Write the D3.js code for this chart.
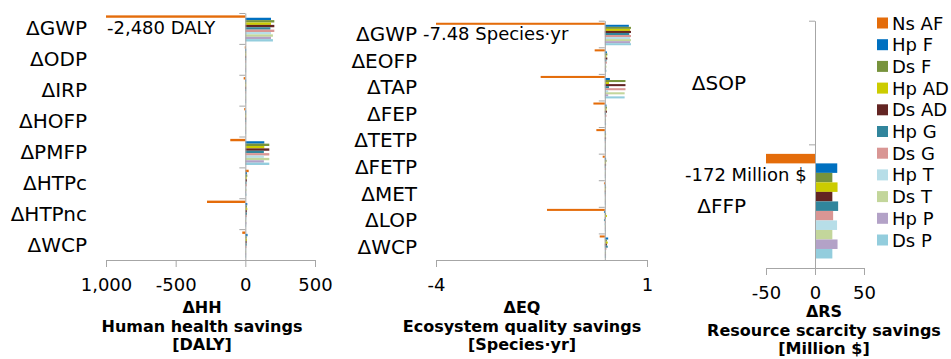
<!DOCTYPE html>
<html>
<head>
<meta charset="utf-8">
<script src="https://cdn.jsdelivr.net/npm/d3@7"></script>
<style>
  body { margin: 0; background: #fff; }
  text { font-family: "DejaVu Sans", Verdana, sans-serif; }
</style>
</head>
<body>
<svg id="chart" width="951" height="359"></svg>
<script>
// series (top to bottom inside each category)
const seriesNames = ["Ns AF", "Hp F", "Ds F", "Hp AD", "Ds AD", "Hp G", "Ds G", "Hp T", "Ds T", "Hp P", "Ds P"];
const seriesColors = ["#e46c0a", "#0070c0", "#77933c", "#cccc00", "#632523", "#31859c", "#d99694", "#b7dee8", "#c3d69b", "#b3a2c7", "#93cddd"];

// Human health savings [DALY]
const hhCategories = ["ΔGWP", "ΔODP", "ΔIRP", "ΔHOFP", "ΔPMFP", "ΔHTPc", "ΔHTPnc", "ΔWCP"];
const hhValues = [
  [-2480, 184, 208, 184, 208, 180, 208, 184, 198, 184, 198],
  [-4, 5, 3, 4, 3, 4, 2, 3, 2, 3, 2],
  [-12, 3, 2, 3, 2, 3, 2, 2, 2, 2, 2],
  [-8, 3, 2, 3, 2, 3, 2, 2, 2, 2, 2],
  [-108, 136, 172, 136, 172, 133, 172, 133, 172, 133, 172],
  [24, 12, 14, 10, 12, 8, 10, 6, 8, 6, 8],
  [-275, 14, 12, 14, 12, 12, 10, 8, 6, 8, 6],
  [-22, 16, 10, 12, 10, 10, 8, 6, 5, 6, 5]
];
const hhTicks = [-1000, -500, 0, 500];
const hhTickLabels = ["1,000", "-500", "0", "500"];

// Ecosystem quality savings [Species·yr]
const eqCategories = ["ΔGWP", "ΔEOFP", "ΔTAP", "ΔFEP", "ΔTETP", "ΔFETP", "ΔMET", "ΔLOP", "ΔWCP"];
const eqValues = [
  [-7.48, 0.57, 0.62, 0.6, 0.62, 0.58, 0.62, 0.6, 0.62, 0.6, 0.62],
  [-0.24, 0.05, 0.06, 0.04, 0.06, 0.04, 0.05, 0.03, 0.04, 0.03, 0.04],
  [-1.52, 0.12, 0.49, 0.1, 0.49, 0.1, 0.49, 0.08, 0.47, 0.08, 0.47],
  [-0.27, 0.04, 0.05, 0.04, 0.05, 0.03, 0.04, 0.02, 0.03, 0.02, 0.03],
  [-0.2, 0.02, 0.03, 0.02, 0.03, 0.02, 0.02, 0.01, 0.02, 0.01, 0.02],
  [-0.05, 0.03, 0.04, 0.03, 0.03, 0.02, 0.03, 0.02, 0.02, 0.02, 0.02],
  [-0.02, 0.02, 0.03, 0.02, 0.02, 0.02, 0.02, 0.01, 0.01, 0.01, 0.01],
  [-1.37, -0.02, 0.03, 0.05, 0.02, -0.02, 0.01, -0.01, 0.01, 0.01, 0.01],
  [-0.12, 0.08, 0.05, 0.07, 0.05, 0.07, 0.04, 0.03, 0.03, 0.03, 0.03]
];
const eqTicks = [-4, 1];
const eqTickLabels = ["-4", "1"];

// Resource scarcity savings [Million $]
const rsCategories = ["ΔSOP", "ΔFFP"];
const rsValues = [
  [0.6, 0.5, 0.4, 0.5, 0.4, 0.5, 0.4, 0.3, 0.2, 0.2, 0.2],
  [-172, 22.7, 17.7, 23, 17.7, 23.6, 18.5, 22.5, 17.7, 23, 17.7]
];
const rsTicks = [-50, 0, 50];
const rsTickLabels = ["-50", "0", "50"];

const svg = d3.select("#chart");
const axisColor = "#a6a6a6";

function drawPanel(cfg) {
  const g = svg.append("g");
  const x = d3.scaleLinear().domain(cfg.domain).range(cfg.xRange).clamp(true);
  const y = d3.scaleBand().domain(cfg.categories).range(cfg.yRange);
  const ySub = d3.scaleBand().domain(seriesNames)
    .range([0, y.bandwidth()]).paddingInner(0).paddingOuter(1);

  // bars
  cfg.categories.forEach((cat, ci) => {
    g.selectAll(null)
      .data(cfg.values[ci])
      .join("rect")
      .attr("x", v => x(Math.min(0, v)))
      .attr("width", v => Math.max(0.8, Math.abs(x(v) - x(0))))
      .attr("y", (v, i) => y(cat) + ySub(seriesNames[i]))
      .attr("height", ySub.bandwidth())
      .attr("fill", (v, i) => seriesColors[i]);
  });

  // vertical axis at zero, ticks at category boundaries
  const yIdx = d3.scaleLinear().domain([0, cfg.categories.length]).range(cfg.yRange);
  const yAxis = g.append("g")
    .attr("transform", `translate(${x(0)},0)`)
    .call(d3.axisLeft(yIdx).tickValues(d3.range(cfg.categories.length + 1))
      .tickFormat("").tickSize(6).tickSizeOuter(0));
  yAxis.selectAll("path, line").attr("stroke", axisColor);

  // category labels
  g.selectAll(null)
    .data(cfg.categories)
    .join("text")
    .attr("x", cfg.labelX)
    .attr("y", d => y(d) + y.bandwidth() / 2 + 7)
    .attr("text-anchor", "end")
    .attr("font-size", 20)
    .text(d => d);

  // horizontal axis
  const xAxis = g.append("g")
    .attr("transform", `translate(0,${cfg.yRange[1]})`)
    .call(d3.axisBottom(x).tickValues(cfg.ticks)
      .tickFormat((d, i) => cfg.tickLabels[i])
      .tickSize(7).tickSizeOuter(0).tickPadding(11));
  xAxis.selectAll("path, line").attr("stroke", axisColor);
  xAxis.selectAll("text").attr("font-size", 18).attr("fill", "#000")
    .attr("font-family", "DejaVu Sans, Verdana, sans-serif");

  // axis title
  const title = g.append("text")
    .attr("x", cfg.titleX)
    .attr("y", cfg.titleY)
    .attr("text-anchor", "middle")
    .attr("font-size", 16)
    .attr("font-weight", "bold");
  cfg.title.forEach((line, i) => {
    title.append("tspan").attr("x", cfg.titleX).attr("dy", i === 0 ? 0 : 18.5).text(line);
  });

  // note for the clipped bar
  g.append("text")
    .attr("x", cfg.noteX)
    .attr("y", cfg.noteY)
    .attr("font-size", 18)
    .text(cfg.note);
}

drawPanel({
  categories: hhCategories, values: hhValues, domain: [-1000, 500],
  ticks: hhTicks, tickLabels: hhTickLabels,
  xRange: [106, 315], yRange: [13, 260], labelX: 87, titleX: 202, titleY: 313,
  title: ["ΔHH", "Human health savings", "[DALY]"],
  note: "-2,480 DALY", noteX: 107, noteY: 34
});

drawPanel({
  categories: eqCategories, values: eqValues, domain: [-4, 1],
  ticks: eqTicks, tickLabels: eqTickLabels,
  xRange: [436, 647], yRange: [20.7, 260], labelX: 417, titleX: 522, titleY: 313,
  title: ["ΔEQ", "Ecosystem quality savings", "[Species·yr]"],
  note: "-7.48 Species·yr", noteX: 423, noteY: 40
});

drawPanel({
  categories: rsCategories, values: rsValues, domain: [-50, 50],
  ticks: rsTicks, tickLabels: rsTickLabels,
  xRange: [766, 864], yRange: [20.7, 268], labelX: 746, titleX: 824, titleY: 317,
  title: ["ΔRS", "Resource scarcity savings", "[Million $]"],
  note: "-172 Million $", noteX: 685, noteY: 181
});

// legend
const legend = svg.append("g").attr("transform", "translate(877,17.5)");
const item = legend.selectAll("g")
  .data(seriesNames)
  .join("g")
  .attr("transform", (d, i) => `translate(0,${i * 21.7})`);
item.append("rect").attr("width", 11).attr("height", 11)
  .attr("fill", (d, i) => seriesColors[i]);
item.append("text").attr("x", 15).attr("y", 12).attr("font-size", 18).text(d => d);
</script>
</body>
</html>
